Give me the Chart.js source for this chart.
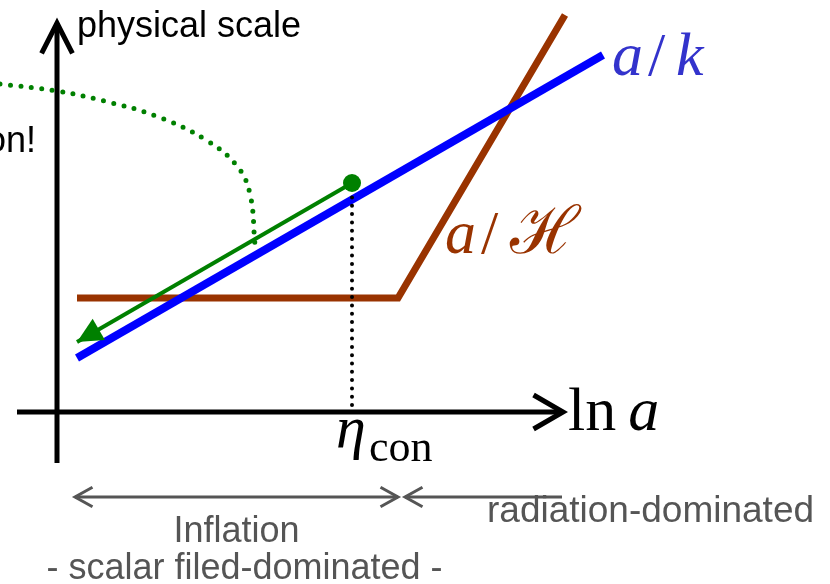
<!DOCTYPE html>
<html>
<head>
<meta charset="utf-8">
<script src="https://cdn.jsdelivr.net/npm/chart.js@4.4.1/dist/chart.umd.min.js"></script>
<style>
    html, body { margin: 0; padding: 0; background: #ffffff; }
    #wrap { width: 830px; height: 584px; position: relative; }
</style>
</head>
<body>
<div id="wrap"><canvas id="chart"></canvas></div>
<script>
// Domain: origin where the axes cross, 1 unit = 10 px
const axisX = [-4.0, 50.6];
const axisY = [-5.1, 38.9];

// a/H : flat during inflation, then rising in the radiation era
const hubbleX = [2.0, 34.1, 50.8];
const hubbleY = [11.4, 11.4, 39.7];

// a/k
const modeX = [2.0, 54.6];
const modeY = [5.4, 35.7];

// green arrow (mode leaving the horizon, traced back)
const exitX = [29.5, 2.0];
const exitY = [22.9, 7.0];

// dotted green curve
const horizonX = [-5.7, 0, 4.7, 9.9, 14.9, 18.0, 19.3, 19.8];
const horizonY = [32.8, 32.1, 31.1, 29.6, 27.2, 24.6, 21.8, 16.7];

// eta_con marker
const etaCon = 29.5;
const etaLineY = [0.7, 21.7];

// era spans under the axis
const inflationSpan = [1.8, 34.1];
const radiationSpan = [34.8, 50.5];
const spanY = -8.5;

const pts = (xs, ys) => xs.map((x, i) => ({ x, y: ys[i] }));

const GREEN = '#008000';
const BLUE = '#0000ff';
const BROWN = '#993300';
const GRAY = '#555555';

// arrow heads: [datasetIndex, 'start'|'end', kind, size, halfAngleDeg, width, color]
const heads = [];

const datasets = [
    {
        label: 'exit',
        data: pts(exitX, exitY),
        borderColor: GREEN,
        borderWidth: 4,
        pointRadius: [9, 0],
        pointBackgroundColor: GREEN,
        pointBorderWidth: 0,
        order: 1,
    },
    {
        label: 'eta',
        data: pts([etaCon, etaCon], etaLineY),
        borderColor: '#000000',
        borderWidth: 4,
        borderDash: [0, 8.3],
        borderCapStyle: 'round',
        pointRadius: 0,
        order: 2,
    },
    {
        label: 'horizon',
        data: pts(horizonX, horizonY),
        borderColor: GREEN,
        borderWidth: 5,
        borderDash: [0, 10.5],
        borderCapStyle: 'round',
        tension: 0.4,
        pointRadius: 0,
        order: 3,
    },
    {
        label: 'a/k',
        data: pts(modeX, modeY),
        borderColor: BLUE,
        borderWidth: 8,
        pointRadius: 0,
        order: 4,
    },
    {
        label: 'a/H',
        data: pts(hubbleX, hubbleY),
        borderColor: BROWN,
        borderWidth: 7,
        borderJoinStyle: 'miter',
        pointRadius: 0,
        order: 5,
    },
    {
        label: 'x axis',
        data: pts(axisX, [0, 0]),
        borderColor: '#000000',
        borderWidth: 5,
        pointRadius: 0,
        order: 6,
    },
    {
        label: 'y axis',
        data: pts([0, 0], axisY),
        borderColor: '#000000',
        borderWidth: 5,
        pointRadius: 0,
        order: 6,
    },
    {
        label: 'inflation',
        data: pts(inflationSpan, [spanY, spanY]),
        borderColor: GRAY,
        borderWidth: 3,
        pointRadius: 0,
        order: 7,
    },
    {
        label: 'radiation',
        data: pts(radiationSpan, [spanY, spanY]),
        borderColor: GRAY,
        borderWidth: 3,
        pointRadius: 0,
        order: 7,
    },
];

heads.push([0, 'end', 'triangle', 28, 26, 0, GREEN]);
heads.push([5, 'end', 'chevron', 34, 30, 5, '#000000']);
heads.push([6, 'end', 'chevron', 34, 27, 5, '#000000']);
heads.push([7, 'start', 'chevron', 20, 29, 3, GRAY]);
heads.push([7, 'end', 'chevron', 20, 29, 3, GRAY]);
heads.push([8, 'start', 'chevron', 20, 29, 3, GRAY]);

const drawHead = (ctx, tip, from, kind, size, halfDeg, width, color) => {
    const ang = Math.atan2(tip.y - from.y, tip.x - from.x);
    const half = halfDeg * Math.PI / 180;
    const p1 = { x: tip.x - size * Math.cos(ang - half), y: tip.y - size * Math.sin(ang - half) };
    const p2 = { x: tip.x - size * Math.cos(ang + half), y: tip.y - size * Math.sin(ang + half) };
    ctx.save();
    ctx.beginPath();
    ctx.moveTo(p1.x, p1.y);
    ctx.lineTo(tip.x, tip.y);
    ctx.lineTo(p2.x, p2.y);
    if (kind === 'triangle') {
        ctx.closePath();
        ctx.fillStyle = color;
        ctx.fill();
    } else {
        ctx.strokeStyle = color;
        ctx.lineWidth = width;
        ctx.lineJoin = 'miter';
        ctx.lineCap = 'butt';
        ctx.stroke();
    }
    ctx.restore();
};

const text = (ctx, str, x, y, font, color, align) => {
    ctx.font = font;
    ctx.fillStyle = color;
    ctx.textAlign = align || 'left';
    ctx.textBaseline = 'alphabetic';
    ctx.fillText(str, x, y);
};

const decorations = {
    id: 'decorations',
    afterDatasetsDraw(chart) {
        const ctx = chart.ctx;
        heads.forEach(([di, which, kind, size, halfDeg, width, color]) => {
            const pts = chart.getDatasetMeta(di).data;
            const tip = which === 'end' ? pts[pts.length - 1] : pts[0];
            const from = which === 'end' ? pts[pts.length - 2] : pts[1];
            drawHead(ctx, tip, from, kind, size, halfDeg, width, color);
        });

        const sx = chart.scales.x;
        const sy = chart.scales.y;
        const serif = '"Liberation Serif", "DejaVu Serif", serif';
        const sans = '"Liberation Sans", Arial, sans-serif';

        text(ctx, 'physical scale', 77, 37, `36px ${sans}`, '#000000');
        text(ctx, 'on!', 36, 152, `36px ${sans}`, '#000000', 'right');

        // a/k
        text(ctx, 'a', 612, 75, `italic 62px ${serif}`, '#3333cc');
        text(ctx, '/', 648, 75, `62px ${serif}`, '#3333cc');
        text(ctx, 'k', 676, 75, `italic 62px ${serif}`, '#3333cc');

        // a/H
        text(ctx, 'a', 445, 253, `italic 62px ${serif}`, BROWN);
        text(ctx, '/', 481, 253, `62px ${serif}`, BROWN);
        text(ctx, '\u210B', 510, 253, `66px ${serif}`, BROWN);

        // ln a
        const lnX = sx.getPixelForValue(axisX[1]) + 5;
        const lnY = sy.getPixelForValue(0) + 18;
        ctx.font = `62px ${serif}`;
        const lnW = ctx.measureText('ln').width;
        text(ctx, 'ln', lnX, lnY, `62px ${serif}`, '#000000');
        text(ctx, 'a', lnX + lnW + 12, lnY, `italic 62px ${serif}`, '#000000');

        // eta_con
        const ex = sx.getPixelForValue(etaCon);
        text(ctx, '\u03B7', ex - 16, 447, `italic 60px ${serif}`, '#000000');
        text(ctx, 'con', ex + 17, 461, `44px ${serif}`, '#000000');

        // era labels
        const midInf = (sx.getPixelForValue(inflationSpan[0]) + sx.getPixelForValue(inflationSpan[1])) / 2;
        text(ctx, 'Inflation', midInf, 542, `36px ${sans}`, GRAY, 'center');
        text(ctx, '- scalar filed-dominated -', midInf + 8, 579, `36px ${sans}`, GRAY, 'center');
        text(ctx, 'radiation-dominated', 487, 522, `37px ${sans}`, GRAY);
    },
};

new Chart(document.getElementById('chart'), {
    type: 'scatter',
    data: { datasets: datasets.map(d => ({ ...d, showLine: true, fill: false, clip: false })) },
    options: {
        responsive: true,
        maintainAspectRatio: false,
        animation: false,
        events: [],
        layout: { padding: 0, autoPadding: false },
        plugins: { legend: { display: false }, tooltip: { enabled: false } },
        scales: {
            x: { type: 'linear', display: false, min: -5.7, max: 77.3 },
            y: { type: 'linear', display: false, min: -17.2, max: 41.2 },
        },
    },
    plugins: [decorations],
});
</script>
</body>
</html>
